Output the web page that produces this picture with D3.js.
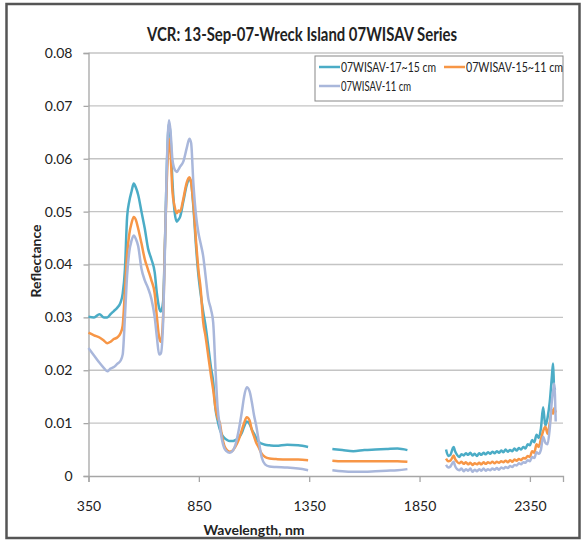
<!DOCTYPE html>
<html>
<head>
<meta charset="utf-8">
<script src="https://cdn.jsdelivr.net/npm/d3@7"></script>
<style>
  html, body { margin: 0; padding: 0; background: #fff; }
  svg { display: block; }
  text { font-family: Lato, "Open Sans", "Liberation Sans", sans-serif; fill: #222; }
</style>
</head>
<body>
<svg id="chart" width="588" height="541"></svg>
<script>
// Wavelength grid (nm); null entries break the line at the water-absorption bands.
const wavelengths = [
  350, 375, 400, 420, 435, 450, 465, 480, 495, 505, 515, 525, 535, 545, 555, 565, 575, 590,
  605, 620, 635, 650, 660, 670, 678, 688, 697, 705, 715, 722, 730, 740, 750, 758, 765, 780,
  795, 807, 815, 825, 838, 848, 858, 870, 880, 893, 905, 915, 925, 935, 945, 955, 965, 975,
  990, 1000, 1015, 1030, 1045, 1055, 1067, 1080, 1090, 1100, 1110, 1120, 1135, 1150, 1170,
  1200, 1250, 1300, 1345,
  1400,
  1455, 1500, 1550, 1600, 1650, 1700, 1750, 1795,
  1880,
  1970, 1980, 1990, 2000, 2005, 2010, 2020, 2030, 2040, 2050, 2060, 2070, 2080, 2090, 2100,
  2110, 2120, 2130, 2140, 2150, 2160, 2170, 2180, 2190, 2200, 2210, 2220, 2230, 2240, 2250,
  2260, 2270, 2280, 2290, 2300, 2310, 2320, 2330, 2340, 2350, 2360, 2370, 2380, 2390, 2400,
  2410, 2420, 2430, 2440, 2450, 2455, 2460, 2467
];

const depth17to15 = [
  .0301, .0300, .0306, .0300, .0300, .0306, .0312, .0318, .0328, .0345, .0390, .0490, .0520, .0538, .0553, .0545, .0532, .0500,
  .0468, .0430, .0410, .0385, .0345, .0318, .0311, .0330, .0450, .0585, .0668, .0640, .0560, .0500, .0481, .0485, .0490, .0520,
  .0550, .0562, .0555, .0510, .0430, .0380, .0345, .0310, .0285, .0244, .0205, .0178, .0128, .0105, .0088, .0078, .0072, .0069,
  .0066, .0066, .0068, .0072, .0082, .0093, .0103, .0098, .0088, .0080, .0072, .0065, .0061, .0059, .0058,
  .0057, .0059, .0058, .0055,
  null,
  .0051, .0049, .0047, .0049, .0050, .0051, .0052, .0049,
  null,
  .0050, .0038, .0040, .0052, .0055, .0048, .0040, .0036, .0041, .0039, .0043, .0040, .0044, .0039, .0042,
  .0038, .0043, .0040, .0044, .0041, .0045, .0042, .0046, .0043, .0047, .0044, .0048, .0045, .0050, .0046,
  .0049, .0047, .0052, .0048, .0053, .0050, .0055, .0052, .0060, .0058, .0068, .0064, .0078, .0072, .0090,
  .0130, .0095, .0110, .0140, .0190, .0213, .0165, .0166
];

const depth15to11 = [
  .0271, .0266, .0262, .0256, .0251, .0254, .0259, .0262, .0270, .0285, .0350, .0420, .0458, .0478, .0490, .0484, .0468, .0440,
  .0410, .0390, .0370, .0345, .0300, .0262, .0254, .0300, .0450, .0560, .0638, .0610, .0540, .0510, .0497, .0502, .0500, .0525,
  .0555, .0565, .0555, .0515, .0440, .0390, .0355, .0290, .0265, .0226, .0190, .0163, .0130, .0110, .0100, .0075, .0058, .0050,
  .0046, .0047, .0055, .0068, .0087, .0100, .0111, .0105, .0087, .0075, .0063, .0055, .0042, .0036, .0033,
  .0032, .0031, .0031, .0030,
  null,
  .0029, .0028, .0028, .0028, .0028, .0028, .0028, .0027,
  null,
  .0033, .0028, .0029, .0036, .0039, .0033, .0027, .0024, .0027, .0023, .0026, .0022, .0025, .0021, .0024,
  .0022, .0025, .0022, .0026, .0023, .0026, .0024, .0027, .0024, .0027, .0025, .0028, .0026, .0029, .0026,
  .0030, .0027, .0031, .0029, .0032, .0030, .0034, .0033, .0038, .0036, .0047, .0044, .0060, .0055, .0070,
  .0085, .0093, .0080, .0100, .0125, .0118, .0128, .0120
];

const depth11 = [
  .0242, .0228, .0214, .0204, .0198, .0203, .0206, .0212, .0218, .0230, .0300, .0380, .0425, .0445, .0455, .0448, .0435, .0392,
  .0370, .0355, .0335, .0300, .0262, .0230, .0232, .0290, .0440, .0590, .0673, .0650, .0600, .0580, .0575, .0580, .0585, .0595,
  .0620, .0638, .0630, .0555, .0490, .0460, .0440, .0415, .0380, .0335, .0315, .0290, .0205, .0130, .0095, .0068, .0053, .0047,
  .0044, .0046, .0058, .0085, .0122, .0150, .0168, .0160, .0140, .0115, .0095, .0070, .0035, .0022, .0018,
  .0017, .0016, .0014, .0011,
  null,
  .0011, .0009, .0008, .0008, .0009, .0010, .0011, .0013,
  null,
  .0021, .0016, .0018, .0025, .0027, .0020, .0013, .0011, .0014, .0009, .0013, .0010, .0014, .0008, .0012,
  .0009, .0013, .0010, .0014, .0010, .0013, .0011, .0014, .0012, .0015, .0012, .0016, .0014, .0017, .0015,
  .0019, .0017, .0021, .0020, .0024, .0022, .0026, .0025, .0030, .0028, .0036, .0034, .0045, .0042, .0050,
  .0074, .0063, .0060, .0090, .0144, .0160, .0175, .0103
];

const seriesNames = ["07WISAV-17~15 cm", "07WISAV-15~11 cm", "07WISAV-11 cm"];
const seriesColors = ["#4bacc6", "#f79646", "#a9b7db"];
const seriesValues = [depth17to15, depth15to11, depth11];

const xTickValues = [350, 850, 1350, 1850, 2350];
const yTickValues = [0, 0.01, 0.02, 0.03, 0.04, 0.05, 0.06, 0.07, 0.08];
const yTickLabels = ["0", "0.01", "0.02", "0.03", "0.04", "0.05", "0.06", "0.07", "0.08"];

const svg = d3.select("#chart");

// Chart frame
svg.append("rect")
  .attr("x", 6.5).attr("y", 4).attr("width", 573).attr("height", 534)
  .attr("fill", "#fff").attr("stroke", "#555").attr("stroke-width", 2.5);

const x = d3.scaleLinear().domain([350, 2500]).range([88.5, 563]);
const y = d3.scaleLinear().domain([0, 0.08]).range([476, 53]);

// Horizontal gridlines
svg.append("g")
  .selectAll("line")
  .data(yTickValues.filter(v => v > 0))
  .join("line")
  .attr("x1", x(350)).attr("x2", x(2500))
  .attr("y1", d => y(d)).attr("y2", d => y(d))
  .attr("stroke", "#c4c4c4").attr("stroke-width", 1.3);

// Axes
const xAxis = svg.append("g")
  .attr("transform", `translate(0,${y(0)})`)
  .call(d3.axisBottom(x).tickValues(xTickValues).tickSize(6).tickPadding(19).tickFormat(d3.format("d")));
const yAxis = svg.append("g")
  .attr("transform", `translate(${x(350)},0)`)
  .call(d3.axisLeft(y).tickValues(yTickValues).tickSize(5).tickPadding(11)
    .tickFormat((d, i) => yTickLabels[i]));

[xAxis, yAxis].forEach(g => {
  g.select(".domain").attr("stroke", "#a6a6a6").attr("stroke-width", 1.3);
  g.selectAll(".tick line").attr("stroke", "#a6a6a6").attr("stroke-width", 1.3);
  g.selectAll(".tick text")
    .attr("font-family", "Lato, 'Open Sans', sans-serif")
    .attr("font-size", 14).attr("fill", "#333");
});

// Spectra
const line = d3.line()
  .defined(d => d[1] !== null)
  .x(d => x(d[0]))
  .y(d => y(d[1]))
  .curve(d3.curveMonotoneX);

seriesValues.forEach((vals, i) => {
  svg.append("path")
    .datum(wavelengths.map((w, k) => [w, vals[k]]))
    .attr("fill", "none")
    .attr("stroke", seriesColors[i])
    .attr("stroke-width", 2.5)
    .attr("stroke-linejoin", "round")
    .attr("d", line);
});

// Title and axis titles
svg.append("text")
  .attr("x", 302).attr("y", 41)
  .attr("text-anchor", "middle")
  .attr("font-size", 18).attr("font-weight", "bold")
  .attr("textLength", 310).attr("lengthAdjust", "spacingAndGlyphs")
  .text("VCR: 13-Sep-07-Wreck Island 07WISAV Series");

svg.append("text")
  .attr("x", 254).attr("y", 535)
  .attr("text-anchor", "middle")
  .attr("font-size", 14).attr("font-weight", "bold")
  .text("Wavelength, nm");

svg.append("text")
  .attr("transform", "translate(41,261) rotate(-90)")
  .attr("text-anchor", "middle")
  .attr("font-size", 14).attr("font-weight", "bold")
  .text("Reflectance");

// Legend
const legend = svg.append("g");
legend.append("rect")
  .attr("x", 315).attr("y", 56).attr("width", 248).attr("height", 45)
  .attr("fill", "#fff").attr("stroke", "#888").attr("stroke-width", 1);

const legendPos = [[319, 67], [444, 67], [319, 86]];
const legendTextLen = [95, 97, 70];
seriesNames.forEach((name, i) => {
  const [lx, ly] = legendPos[i];
  legend.append("line")
    .attr("x1", lx).attr("x2", lx + 21).attr("y1", ly).attr("y2", ly)
    .attr("stroke", seriesColors[i]).attr("stroke-width", 2.5);
  legend.append("text")
    .attr("x", lx + 22).attr("y", ly + 4.5)
    .attr("font-size", 12.5)
    .attr("textLength", legendTextLen[i]).attr("lengthAdjust", "spacingAndGlyphs")
    .text(name);
});
</script>
</body>
</html>
